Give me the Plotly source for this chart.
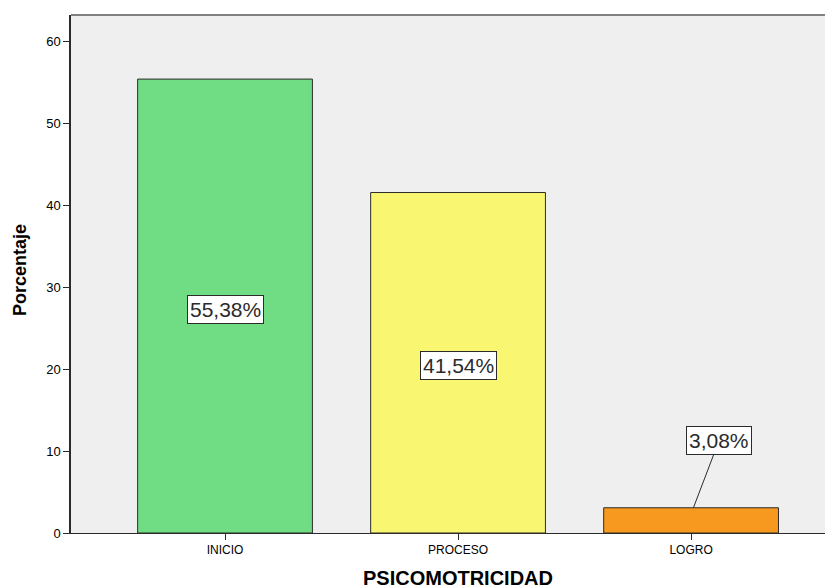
import plotly.graph_objects as go

categories = ["INICIO", "PROCESO", "LOGRO"]
percentages = [55.38, 41.54, 3.08]
value_labels = ["55,38%", "41,54%", "3,08%"]
bar_colors = ["#70DC84", "#F9F771", "#F7991E"]
y_ticks = [0, 10, 20, 30, 40, 50, 60]

FONT = "Liberation Sans, Arial, sans-serif"
DARK = "#2b2b2b"

fig = go.Figure()
fig.add_trace(go.Bar(
    x=list(range(len(categories))),
    y=percentages,
    width=0.75,
    marker=dict(color=bar_colors, line=dict(color=DARK, width=1)),
    hoverinfo="skip",
))

annotations = []
for i, (v, t) in enumerate(zip(percentages, value_labels)):
    if v > 10:
        annotations.append(dict(
            x=i, y=v / 2, xref="x", yref="y", text=t, showarrow=False,
            yshift=-3,
            font=dict(family=FONT, size=21, color=DARK),
            bgcolor="white", bordercolor=DARK, borderwidth=1, borderpad=2,
        ))
    else:
        annotations.append(dict(
            x=i + 0.01, y=v, xref="x", yref="y",
            ax=i + 0.12, ay=v + 8.2, axref="x", ayref="y",
            text=t, showarrow=True, arrowhead=0, arrowwidth=1, arrowcolor=DARK,
            font=dict(family=FONT, size=21, color=DARK),
            bgcolor="white", bordercolor=DARK, borderwidth=1, borderpad=2,
        ))

annotations.append(dict(
    text="<b>PSICOMOTRICIDAD</b>", xref="paper", yref="paper", x=0.508,
    y=0, yshift=-45, xanchor="center", yanchor="middle", showarrow=False,
    font=dict(family=FONT, size=20, color="black"),
))
annotations.append(dict(
    text="<b>Porcentaje</b>", xref="paper", yref="paper", x=0, xshift=-51,
    y=0.5, yshift=4, xanchor="center", yanchor="middle", showarrow=False,
    textangle=-90, font=dict(family=FONT, size=18, color="black"),
))

# the page body has an 8px default margin, so the figure is sized to fit
fig.update_layout(
    width=825, height=580,
    margin=dict(l=63, r=0, t=7, b=55),
    paper_bgcolor="white", plot_bgcolor="#EFEFEF",
    showlegend=False,
    annotations=annotations,
    xaxis=dict(
        range=[-0.661, 2.609],
        tickmode="array", tickvals=list(range(len(categories))), ticktext=categories,
        ticks="outside", ticklen=6, tickcolor=DARK, tickwidth=1,
        showline=True, linecolor=DARK, linewidth=1,
        showgrid=False, zeroline=False,
        tickfont=dict(family=FONT, size=12, color="black"),
    ),
    yaxis=dict(
        range=[0, 63.2],
        tickmode="array", tickvals=y_ticks,
        ticks="outside", ticklen=6, tickcolor=DARK, tickwidth=1,
        showline=True, linecolor=DARK, linewidth=1.5,
        showgrid=False, zeroline=False,
        tickfont=dict(family=FONT, size=13, color="black"),
    ),
    shapes=[dict(type="line", xref="paper", yref="paper", x0=0, x1=1, y0=1, y1=1,
                 line=dict(color="#808080", width=2))],
)

fig.write_html("out.html")
